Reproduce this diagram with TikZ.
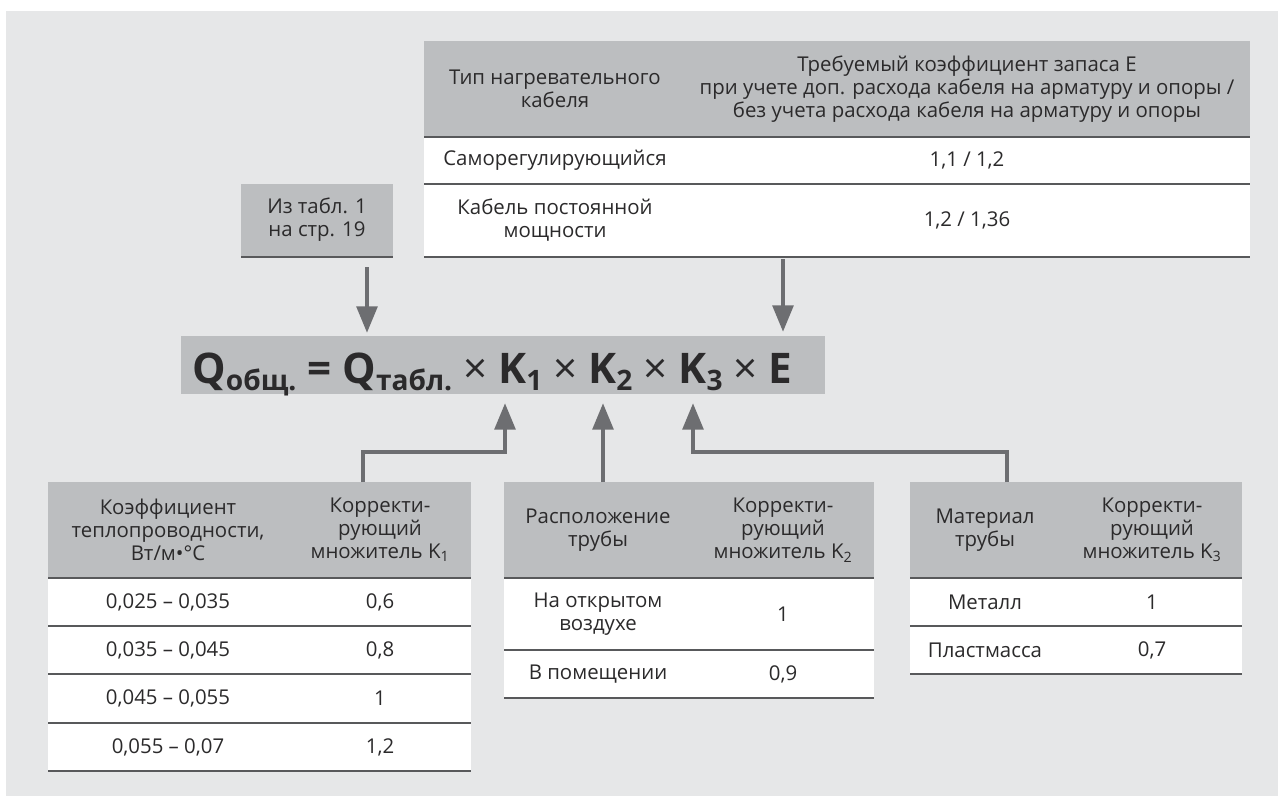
\documentclass[tikz,border=0pt]{standalone}
\usepackage{fontspec}
\setmainfont{Open Sans}
\usetikzlibrary{arrows.meta}

\definecolor{bgray}{HTML}{E6E7E8}
\definecolor{hgray}{HTML}{BCBEC0}
\definecolor{rulec}{HTML}{58595B}
\definecolor{arrc}{HTML}{6D6E71}
\definecolor{txtc}{HTML}{2B2A2B}

% subscript and sign in the big formula
\newcommand{\lowsub}[1]{\raisebox{-0.17em}{\fontsize{20}{20}\selectfont #1}}
\newcommand{\tms}{{\mdseries×}}

\tikzset{
  cell/.style={align=center, inner sep=0pt, text=txtc,
    font=\fontsize{14.5}{16.4}\selectfont},
  hline/.style={draw=rulec, line width=1.05pt},
  feed/.style={draw=arrc, line width=3.4pt,
    -{Triangle[length=19pt, width=14.5pt]}},
}

\begin{document}
\begin{tikzpicture}[x=0.025cm, y=-0.025cm]

\useasboundingbox (0,0) rectangle (1281,796);
\fill[bgray] (6,11) rectangle (1278,796);

% table E
\fill[hgray] (424,41) rectangle (1250,137);
\fill[white] (424,137) rectangle (1250,257);
\foreach \y in {137,184,257}
  \draw[hline] (424,\y) -- (1250,\y);
\node[cell] (etype) at (555,89) {Тип нагревательного\\кабеля};
\node[cell] (ehead) at (967,89) {Требуемый коэффициент запаса E\\при учете доп. расхода кабеля на арматуру и опоры /\\без учета расхода кабеля на арматуру и опоры};
\node[cell] (eself) at (555,160) {Саморегулирующийся};
\node[cell] (eselfv) at (967,160) {1,1 / 1,2};
\node[cell] (econst) at (555,220) {Кабель постоянной\\мощности};
\node[cell] (econstv) at (967,220) {1,2 / 1,36};

% box Q
\fill[hgray] (241,184) rectangle (393,257);
\draw[hline] (241,257) -- (393,257);
\node[cell] (qref) at (317,220) {Из табл. 1\\на стр. 19};

% formula
\fill[hgray] (181,336) rectangle (825,394);
\node[anchor=base west, inner sep=0pt, text=txtc] (formula) at (192,383)
  {\fontsize{30}{36}\selectfont\bfseries Q\lowsub{общ.} = Q\lowsub{табл.} \tms{} K\lowsub{1} \tms{} K\lowsub{2} \tms{} K\lowsub{3} \tms{} E};

% table K1
\fill[hgray] (48,482) rectangle (471,578);
\fill[white] (48,578) rectangle (471,771);
\foreach \y in {578,626,674,723,771}
  \draw[hline] (48,\y) -- (471,\y);
\node[cell] (kone) at (168,530) {Коэффициент\\теплопроводности,\\Вт/м•°С};
\node[cell] (konev) at (380,530) {Корректи-\\рующий\\множитель K\textsubscript{1}};
\foreach \y/\a/\b in {602/{0,025 – 0,035}/{0,6}, 650/{0,035 – 0,045}/{0,8},
                       698/{0,045 – 0,055}/1, 747/{0,055 – 0,07}/{1,2}}
{
  \node[cell] at (168,\y) {\a};
  \node[cell] at (380,\y) {\b};
}

% table K2
\fill[hgray] (504,482) rectangle (874,578);
\fill[white] (504,578) rectangle (874,698);
\foreach \y in {578,650,698}
  \draw[hline] (504,\y) -- (874,\y);
\node[cell] (ktwo) at (598,530) {Расположение\\трубы};
\node[cell] (ktwov) at (783,530) {Корректи-\\рующий\\множитель K\textsubscript{2}};
\node[cell] (kout) at (598,614) {На открытом\\воздухе};
\node[cell] (koutv) at (783,614) {1};
\node[cell] (kin) at (598,674) {В помещении};
\node[cell] (kinv) at (783,674) {0,9};

% table K3
\fill[hgray] (910,482) rectangle (1242,578);
\fill[white] (910,578) rectangle (1242,674);
\foreach \y in {578,626,674}
  \draw[hline] (910,\y) -- (1242,\y);
\node[cell] (kthree) at (985,530) {Материал\\трубы};
\node[cell] (kthreev) at (1152,530) {Корректи-\\рующий\\множитель K\textsubscript{3}};
\node[cell] (kmet) at (985,602) {Металл};
\node[cell] (kmetv) at (1152,602) {1};
\node[cell] (kpl) at (985,650) {Пластмасса};
\node[cell] (kplv) at (1152,650) {0,7};

% arrow ends
\coordinate (qsrc) at (367,267);
\coordinate (qtip) at (367,333);
\coordinate (esrc) at (783,259);
\coordinate (etip) at (783,332);
\coordinate (kasrc) at (363,482);
\coordinate (katip) at (505,403);
\coordinate (kbsrc) at (603,482);
\coordinate (kbtip) at (603,403);
\coordinate (kcsrc) at (1007,482);
\coordinate (kctip) at (693,403);

\draw[feed] (qsrc) -- (qtip);
\draw[feed] (esrc) -- (etip);
\draw[feed] (kasrc) -- ++(0,-30) -| (katip);
\draw[feed] (kbsrc) -- (kbtip);
\draw[feed] (kcsrc) -- ++(0,-30) -| (kctip);

\end{tikzpicture}
\end{document}
